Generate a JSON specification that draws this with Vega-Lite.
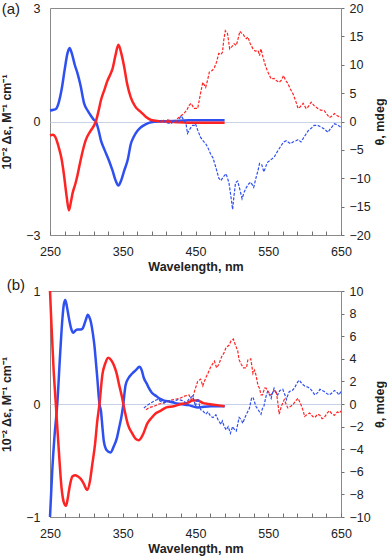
{
  "$schema": "https://vega.github.io/schema/vega-lite/v6.json",
  "padding": {"left": 0, "top": 1, "right": 0, "bottom": 0},
  "spacing": 3,
  "config": {
    "font": "Liberation Sans",
    "view": {"stroke": "#8a8a8a", "strokeWidth": 1},
    "axis": {"grid": false, "domain": false, "labelFontSize": 12.5, "labelColor": "#222", "titleColor": "#222", "titleFontSize": 12.5, "titleFontWeight": "bold", "tickColor": "#707070", "tickWidth": 1, "labelOverlap": false, "labelFlush": false, "labelBound": false}
  },
  "datasets": {
    "aS": [
      {"s":"b","x":250,"y":0.29},{"s":"b","x":255,"y":0.31},{"s":"b","x":258,"y":0.33},{"s":"b","x":262,"y":0.5},{"s":"b","x":266,"y":0.85},{"s":"b","x":270,"y":1.35},{"s":"b","x":274,"y":1.8},{"s":"b","x":277,"y":1.94},{"s":"b","x":280,"y":1.8},{"s":"b","x":284,"y":1.5},{"s":"b","x":288,"y":1.26},{"s":"b","x":292,"y":0.95},{"s":"b","x":297,"y":0.47},{"s":"b","x":302,"y":0.28},{"s":"b","x":306,"y":0.16},{"s":"b","x":310,"y":0.05},{"s":"b","x":313,"y":0.0},{"s":"b","x":317,"y":-0.25},{"s":"b","x":320,"y":-0.5},{"s":"b","x":325,"y":-0.75},{"s":"b","x":331,"y":-1.03},{"s":"b","x":336,"y":-1.3},{"s":"b","x":340,"y":-1.55},{"s":"b","x":344,"y":-1.69},{"s":"b","x":348,"y":-1.55},{"s":"b","x":352,"y":-1.3},{"s":"b","x":357,"y":-1.0},{"s":"b","x":361,"y":-0.6},{"s":"b","x":365,"y":-0.41},{"s":"b","x":370,"y":-0.25},{"s":"b","x":375,"y":-0.15},{"s":"b","x":382,"y":-0.07},{"s":"b","x":389,"y":-0.02},{"s":"b","x":400,"y":0.0},{"s":"b","x":420,"y":0.01},{"s":"b","x":440,"y":0.03},{"s":"b","x":460,"y":0.03},{"s":"b","x":490,"y":0.03},
      {"s":"r","x":250,"y":-0.37},{"s":"r","x":254,"y":-0.35},{"s":"r","x":257,"y":-0.4},{"s":"r","x":262,"y":-0.68},{"s":"r","x":266,"y":-1.0},{"s":"r","x":269,"y":-1.38},{"s":"r","x":273,"y":-2.0},{"s":"r","x":276,"y":-2.35},{"s":"r","x":279,"y":-2.1},{"s":"r","x":281,"y":-1.9},{"s":"r","x":285,"y":-1.64},{"s":"r","x":288,"y":-1.4},{"s":"r","x":292,"y":-1.03},{"s":"r","x":296,"y":-0.7},{"s":"r","x":299,"y":-0.5},{"s":"r","x":306,"y":-0.24},{"s":"r","x":313,"y":0.0},{"s":"r","x":317,"y":0.3},{"s":"r","x":320,"y":0.56},{"s":"r","x":325,"y":0.85},{"s":"r","x":329,"y":1.08},{"s":"r","x":333,"y":1.25},{"s":"r","x":336,"y":1.4},{"s":"r","x":340,"y":1.75},{"s":"r","x":344,"y":2.03},{"s":"r","x":348,"y":1.8},{"s":"r","x":352,"y":1.44},{"s":"r","x":356,"y":1.0},{"s":"r","x":361,"y":0.64},{"s":"r","x":367,"y":0.4},{"s":"r","x":375,"y":0.25},{"s":"r","x":382,"y":0.12},{"s":"r","x":389,"y":0.04},{"s":"r","x":400,"y":0.01},{"s":"r","x":420,"y":-0.01},{"s":"r","x":440,"y":-0.03},{"s":"r","x":460,"y":-0.03},{"s":"r","x":490,"y":-0.03}
    ],
    "aD": [
      {"s":"r","x":400,"y":0},{"s":"r","x":405,"y":-0.2},{"s":"r","x":410,"y":0.3},{"s":"r","x":416,"y":0.2},{"s":"r","x":420,"y":-0.3},{"s":"r","x":425,"y":0.5},{"s":"r","x":430,"y":1.0},{"s":"r","x":434,"y":1.4},{"s":"r","x":438,"y":2.0},{"s":"r","x":441,"y":2.8},{"s":"r","x":444,"y":3.2},{"s":"r","x":448,"y":2.3},{"s":"r","x":453,"y":2.3},{"s":"r","x":457,"y":5.0},{"s":"r","x":460,"y":6.9},{"s":"r","x":464,"y":6.0},{"s":"r","x":467,"y":7.5},{"s":"r","x":469,"y":8.7},{"s":"r","x":473,"y":9.0},{"s":"r","x":476,"y":9.5},{"s":"r","x":479,"y":10.5},{"s":"r","x":482,"y":12.0},{"s":"r","x":485,"y":11.8},{"s":"r","x":487,"y":12.2},{"s":"r","x":489,"y":14.5},{"s":"r","x":491,"y":16.0},{"s":"r","x":494,"y":15.5},{"s":"r","x":497,"y":12.8},{"s":"r","x":500,"y":13.2},{"s":"r","x":503,"y":13.7},{"s":"r","x":506,"y":13.4},{"s":"r","x":508,"y":14.3},{"s":"r","x":511,"y":15.9},{"s":"r","x":513,"y":15.6},{"s":"r","x":515,"y":15.5},{"s":"r","x":518,"y":14.8},{"s":"r","x":520,"y":14.6},{"s":"r","x":522,"y":14.9},{"s":"r","x":525,"y":13.8},{"s":"r","x":529,"y":12.8},{"s":"r","x":532,"y":12.4},{"s":"r","x":536,"y":12.5},{"s":"r","x":538,"y":11.6},{"s":"r","x":540,"y":12.8},{"s":"r","x":543,"y":11.2},{"s":"r","x":547,"y":9.5},{"s":"r","x":550,"y":8.6},{"s":"r","x":554,"y":7.5},{"s":"r","x":558,"y":7.6},{"s":"r","x":561,"y":7.2},{"s":"r","x":565,"y":6.9},{"s":"r","x":568,"y":7.3},{"s":"r","x":571,"y":8.1},{"s":"r","x":574,"y":7.2},{"s":"r","x":577,"y":6.7},{"s":"r","x":580,"y":5.8},{"s":"r","x":584,"y":4.9},{"s":"r","x":588,"y":3.5},{"s":"r","x":591,"y":2.3},{"s":"r","x":594,"y":2.6},{"s":"r","x":598,"y":3.2},{"s":"r","x":602,"y":2.3},{"s":"r","x":605,"y":2.6},{"s":"r","x":609,"y":3.4},{"s":"r","x":613,"y":2.8},{"s":"r","x":618,"y":2.3},{"s":"r","x":622,"y":2.0},{"s":"r","x":627,"y":1.9},{"s":"r","x":631,"y":1.2},{"s":"r","x":634,"y":0.7},{"s":"r","x":638,"y":1.0},{"s":"r","x":641,"y":1.4},{"s":"r","x":645,"y":1.0},{"s":"r","x":650,"y":0.7},
      {"s":"b","x":400,"y":0},{"s":"b","x":405,"y":0.3},{"s":"b","x":410,"y":-0.2},{"s":"b","x":416,"y":-0.4},{"s":"b","x":420,"y":0.2},{"s":"b","x":425,"y":-0.3},{"s":"b","x":430,"y":1.0},{"s":"b","x":434,"y":0.3},{"s":"b","x":437,"y":-0.4},{"s":"b","x":439,"y":-2.1},{"s":"b","x":441,"y":-1.6},{"s":"b","x":444,"y":-1.0},{"s":"b","x":446,"y":-0.7},{"s":"b","x":448,"y":-0.7},{"s":"b","x":450,"y":-0.4},{"s":"b","x":453,"y":-1.5},{"s":"b","x":457,"y":-2.8},{"s":"b","x":461,"y":-3.5},{"s":"b","x":464,"y":-3.9},{"s":"b","x":467,"y":-4.6},{"s":"b","x":471,"y":-5.8},{"s":"b","x":474,"y":-6.4},{"s":"b","x":478,"y":-8.1},{"s":"b","x":482,"y":-10.0},{"s":"b","x":485,"y":-10.4},{"s":"b","x":488,"y":-9.8},{"s":"b","x":492,"y":-9.2},{"s":"b","x":494,"y":-10.0},{"s":"b","x":496,"y":-10.8},{"s":"b","x":499,"y":-13.5},{"s":"b","x":501,"y":-15.5},{"s":"b","x":503,"y":-13.0},{"s":"b","x":505,"y":-10.8},{"s":"b","x":508,"y":-10.5},{"s":"b","x":511,"y":-12.0},{"s":"b","x":514,"y":-13.6},{"s":"b","x":517,"y":-12.4},{"s":"b","x":520,"y":-11.6},{"s":"b","x":523,"y":-11.0},{"s":"b","x":526,"y":-10.7},{"s":"b","x":530,"y":-11.6},{"s":"b","x":533,"y":-10.0},{"s":"b","x":536,"y":-8.6},{"s":"b","x":538,"y":-7.4},{"s":"b","x":541,"y":-7.6},{"s":"b","x":544,"y":-8.9},{"s":"b","x":547,"y":-7.8},{"s":"b","x":549,"y":-7.2},{"s":"b","x":553,"y":-6.8},{"s":"b","x":558,"y":-6.3},{"s":"b","x":563,"y":-5.2},{"s":"b","x":568,"y":-4.2},{"s":"b","x":571,"y":-3.6},{"s":"b","x":575,"y":-3.4},{"s":"b","x":578,"y":-3.7},{"s":"b","x":581,"y":-3.9},{"s":"b","x":584,"y":-3.6},{"s":"b","x":588,"y":-3.4},{"s":"b","x":591,"y":-3.2},{"s":"b","x":595,"y":-3.6},{"s":"b","x":598,"y":-3.0},{"s":"b","x":602,"y":-2.2},{"s":"b","x":605,"y":-1.6},{"s":"b","x":609,"y":-1.2},{"s":"b","x":613,"y":-0.7},{"s":"b","x":618,"y":-0.7},{"s":"b","x":623,"y":-1.0},{"s":"b","x":627,"y":-1.3},{"s":"b","x":632,"y":-1.9},{"s":"b","x":636,"y":-1.2},{"s":"b","x":641,"y":-0.4},{"s":"b","x":645,"y":-0.6},{"s":"b","x":650,"y":-1.0}
    ],
    "bS": [
      {"s":"b","x":250,"y":-1.0},{"s":"b","x":253,"y":-0.6},{"s":"b","x":256,"y":-0.3},{"s":"b","x":260,"y":0.0},{"s":"b","x":264,"y":0.45},{"s":"b","x":267,"y":0.75},{"s":"b","x":269,"y":0.88},{"s":"b","x":271,"y":0.92},{"s":"b","x":273,"y":0.87},{"s":"b","x":276,"y":0.76},{"s":"b","x":279,"y":0.67},{"s":"b","x":282,"y":0.63},{"s":"b","x":285,"y":0.65},{"s":"b","x":288,"y":0.66},{"s":"b","x":292,"y":0.66},{"s":"b","x":295,"y":0.67},{"s":"b","x":299,"y":0.74},{"s":"b","x":302,"y":0.79},{"s":"b","x":304,"y":0.77},{"s":"b","x":306,"y":0.73},{"s":"b","x":309,"y":0.62},{"s":"b","x":311,"y":0.52},{"s":"b","x":313,"y":0.38},{"s":"b","x":315,"y":0.23},{"s":"b","x":318,"y":0.0},{"s":"b","x":320,"y":-0.06},{"s":"b","x":322,"y":-0.2},{"s":"b","x":324,"y":-0.33},{"s":"b","x":328,"y":-0.41},{"s":"b","x":333,"y":-0.43},{"s":"b","x":338,"y":-0.37},{"s":"b","x":342,"y":-0.3},{"s":"b","x":345,"y":-0.21},{"s":"b","x":348,"y":-0.12},{"s":"b","x":350,"y":-0.04},{"s":"b","x":354,"y":0.17},{"s":"b","x":358,"y":0.23},{"s":"b","x":363,"y":0.27},{"s":"b","x":368,"y":0.3},{"s":"b","x":373,"y":0.33},{"s":"b","x":376,"y":0.3},{"s":"b","x":379,"y":0.23},{"s":"b","x":383,"y":0.18},{"s":"b","x":386,"y":0.14},{"s":"b","x":390,"y":0.1},{"s":"b","x":396,"y":0.07},{"s":"b","x":400,"y":0.05},{"s":"b","x":407,"y":0.03},{"s":"b","x":415,"y":0.02},{"s":"b","x":421,"y":0.01},{"s":"b","x":430,"y":0.0},{"s":"b","x":440,"y":-0.01},{"s":"b","x":453,"y":-0.03},{"s":"b","x":471,"y":-0.02},{"s":"b","x":490,"y":-0.02},
      {"s":"r","x":250,"y":1.0},{"s":"r","x":252,"y":0.7},{"s":"r","x":255,"y":0.3},{"s":"r","x":258,"y":0.0},{"s":"r","x":262,"y":-0.4},{"s":"r","x":266,"y":-0.75},{"s":"r","x":269,"y":-0.87},{"s":"r","x":272,"y":-0.9},{"s":"r","x":274,"y":-0.85},{"s":"r","x":276,"y":-0.77},{"s":"r","x":278,"y":-0.7},{"s":"r","x":281,"y":-0.64},{"s":"r","x":285,"y":-0.63},{"s":"r","x":288,"y":-0.64},{"s":"r","x":292,"y":-0.66},{"s":"r","x":296,"y":-0.7},{"s":"r","x":301,"y":-0.76},{"s":"r","x":305,"y":-0.68},{"s":"r","x":308,"y":-0.54},{"s":"r","x":312,"y":-0.35},{"s":"r","x":315,"y":-0.15},{"s":"r","x":318,"y":0.0},{"s":"r","x":322,"y":0.26},{"s":"r","x":326,"y":0.36},{"s":"r","x":330,"y":0.41},{"s":"r","x":334,"y":0.39},{"s":"r","x":338,"y":0.34},{"s":"r","x":342,"y":0.26},{"s":"r","x":345,"y":0.17},{"s":"r","x":349,"y":0.06},{"s":"r","x":352,"y":-0.04},{"s":"r","x":357,"y":-0.18},{"s":"r","x":363,"y":-0.26},{"s":"r","x":368,"y":-0.31},{"s":"r","x":372,"y":-0.32},{"s":"r","x":377,"y":-0.28},{"s":"r","x":384,"y":-0.17},{"s":"r","x":390,"y":-0.12},{"s":"r","x":396,"y":-0.08},{"s":"r","x":402,"y":-0.06},{"s":"r","x":410,"y":-0.03},{"s":"r","x":420,"y":-0.02},{"s":"r","x":430,"y":0.0},{"s":"r","x":439,"y":0.01},{"s":"r","x":446,"y":0.03},{"s":"r","x":453,"y":0.03},{"s":"r","x":460,"y":0.01},{"s":"r","x":467,"y":0.0},{"s":"r","x":480,"y":-0.01},{"s":"r","x":490,"y":-0.02}
    ],
    "bD": [
      {"s":"r","x":382,"y":-0.5},{"s":"r","x":387,"y":-0.3},{"s":"r","x":393,"y":-0.2},{"s":"r","x":400,"y":0.0},{"s":"r","x":407,"y":0.1},{"s":"r","x":414,"y":0.3},{"s":"r","x":421,"y":0.4},{"s":"r","x":428,"y":0.5},{"s":"r","x":435,"y":0.7},{"s":"r","x":441,"y":0.8},{"s":"r","x":444,"y":0.4},{"s":"r","x":446,"y":0.5},{"s":"r","x":449,"y":1.2},{"s":"r","x":453,"y":2.0},{"s":"r","x":457,"y":2.2},{"s":"r","x":460,"y":1.6},{"s":"r","x":464,"y":2.3},{"s":"r","x":467,"y":2.7},{"s":"r","x":471,"y":3.3},{"s":"r","x":476,"y":3.8},{"s":"r","x":479,"y":3.2},{"s":"r","x":482,"y":3.5},{"s":"r","x":486,"y":4.2},{"s":"r","x":489,"y":4.5},{"s":"r","x":492,"y":5.0},{"s":"r","x":496,"y":5.2},{"s":"r","x":499,"y":5.6},{"s":"r","x":502,"y":5.75},{"s":"r","x":505,"y":5.2},{"s":"r","x":508,"y":4.7},{"s":"r","x":510,"y":3.9},{"s":"r","x":513,"y":3.5},{"s":"r","x":516,"y":3.2},{"s":"r","x":520,"y":3.2},{"s":"r","x":522,"y":3.9},{"s":"r","x":526,"y":4.0},{"s":"r","x":529,"y":2.7},{"s":"r","x":531,"y":3.0},{"s":"r","x":533,"y":2.6},{"s":"r","x":536,"y":1.6},{"s":"r","x":538,"y":1.4},{"s":"r","x":540,"y":0.8},{"s":"r","x":542,"y":0.8},{"s":"r","x":545,"y":1.4},{"s":"r","x":547,"y":1.4},{"s":"r","x":551,"y":1.0},{"s":"r","x":554,"y":0.8},{"s":"r","x":558,"y":1.2},{"s":"r","x":561,"y":1.1},{"s":"r","x":563,"y":0.2},{"s":"r","x":565,"y":-0.9},{"s":"r","x":568,"y":-0.2},{"s":"r","x":572,"y":0.4},{"s":"r","x":575,"y":-0.1},{"s":"r","x":577,"y":-0.35},{"s":"r","x":581,"y":-0.2},{"s":"r","x":584,"y":-0.06},{"s":"r","x":588,"y":0.3},{"s":"r","x":591,"y":0.5},{"s":"r","x":595,"y":-0.06},{"s":"r","x":598,"y":-0.6},{"s":"r","x":600,"y":-1.1},{"s":"r","x":604,"y":-0.9},{"s":"r","x":607,"y":-0.8},{"s":"r","x":611,"y":-1.1},{"s":"r","x":614,"y":-1.2},{"s":"r","x":618,"y":-0.9},{"s":"r","x":621,"y":-1.0},{"s":"r","x":624,"y":-1.3},{"s":"r","x":627,"y":-1.2},{"s":"r","x":631,"y":-0.8},{"s":"r","x":634,"y":-0.6},{"s":"r","x":638,"y":-0.9},{"s":"r","x":641,"y":-1.0},{"s":"r","x":645,"y":-0.7},{"s":"r","x":648,"y":-0.8},{"s":"r","x":650,"y":-0.6},
      {"s":"b","x":379,"y":-0.35},{"s":"b","x":384,"y":-0.1},{"s":"b","x":389,"y":0.1},{"s":"b","x":394,"y":0.3},{"s":"b","x":398,"y":0.4},{"s":"b","x":403,"y":0.2},{"s":"b","x":407,"y":0.1},{"s":"b","x":414,"y":0.3},{"s":"b","x":420,"y":0.2},{"s":"b","x":426,"y":0.4},{"s":"b","x":432,"y":0.3},{"s":"b","x":437,"y":0.1},{"s":"b","x":442,"y":0.5},{"s":"b","x":446,"y":0.7},{"s":"b","x":448,"y":0.3},{"s":"b","x":450,"y":-0.2},{"s":"b","x":453,"y":0.5},{"s":"b","x":457,"y":-0.5},{"s":"b","x":460,"y":-0.6},{"s":"b","x":464,"y":-0.9},{"s":"b","x":467,"y":-0.7},{"s":"b","x":471,"y":-1.1},{"s":"b","x":474,"y":-1.2},{"s":"b","x":478,"y":-0.95},{"s":"b","x":481,"y":-1.4},{"s":"b","x":485,"y":-1.8},{"s":"b","x":487,"y":-1.5},{"s":"b","x":489,"y":-1.9},{"s":"b","x":492,"y":-2.3},{"s":"b","x":495,"y":-2.0},{"s":"b","x":498,"y":-2.6},{"s":"b","x":501,"y":-2.0},{"s":"b","x":503,"y":-2.2},{"s":"b","x":506,"y":-2.4},{"s":"b","x":510,"y":-1.2},{"s":"b","x":513,"y":-1.4},{"s":"b","x":515,"y":-1.7},{"s":"b","x":518,"y":-1.2},{"s":"b","x":520,"y":-0.9},{"s":"b","x":524,"y":-0.4},{"s":"b","x":527,"y":0.5},{"s":"b","x":529,"y":0.6},{"s":"b","x":531,"y":0.2},{"s":"b","x":533,"y":-0.2},{"s":"b","x":536,"y":-0.5},{"s":"b","x":540,"y":-0.9},{"s":"b","x":542,"y":-0.4},{"s":"b","x":544,"y":-0.2},{"s":"b","x":547,"y":0.7},{"s":"b","x":549,"y":1.1},{"s":"b","x":552,"y":0.8},{"s":"b","x":554,"y":0.5},{"s":"b","x":556,"y":1.0},{"s":"b","x":558,"y":1.4},{"s":"b","x":561,"y":0.9},{"s":"b","x":563,"y":0.8},{"s":"b","x":566,"y":1.2},{"s":"b","x":570,"y":1.3},{"s":"b","x":573,"y":0.8},{"s":"b","x":575,"y":0.4},{"s":"b","x":577,"y":0.8},{"s":"b","x":579,"y":1.1},{"s":"b","x":583,"y":1.2},{"s":"b","x":586,"y":1.4},{"s":"b","x":589,"y":1.8},{"s":"b","x":591,"y":2.0},{"s":"b","x":593,"y":2.1},{"s":"b","x":595,"y":1.9},{"s":"b","x":598,"y":1.7},{"s":"b","x":600,"y":1.6},{"s":"b","x":604,"y":1.5},{"s":"b","x":607,"y":1.4},{"s":"b","x":611,"y":1.1},{"s":"b","x":614,"y":0.8},{"s":"b","x":618,"y":1.0},{"s":"b","x":621,"y":1.3},{"s":"b","x":624,"y":1.2},{"s":"b","x":627,"y":1.1},{"s":"b","x":631,"y":0.9},{"s":"b","x":634,"y":0.8},{"s":"b","x":638,"y":1.0},{"s":"b","x":641,"y":1.2},{"s":"b","x":645,"y":1.0},{"s":"b","x":647,"y":0.8},{"s":"b","x":650,"y":1.1}
    ]
  },
  "vconcat": [
    {
      "width": 291, "height": 227,
      "title": {"text": "(a)", "anchor": "start", "frame": "bounds", "fontSize": 15, "fontWeight": "normal", "color": "#222", "offset": -15, "dx": 1},
      "layer": [
        {"data": {"name": "aS"}, "mark": {"type": "line", "strokeWidth": 2.5, "interpolate": "monotone"},
         "encoding": {
           "x": {"field": "x", "type": "quantitative", "scale": {"domain": [250, 650], "nice": false}, "axis": {"values": [250,270,290,310,330,350,370,390,410,430,450,470,490,510,530,550,570,590,610,630,650], "tickCount": 40, "labelExpr": "(datum.value-250)%100==0 ? datum.label : ''", "labelOverlap": false, "offset": -4, "tickSize": 4, "labelPadding": 10, "title": "Wavelength, nm", "titlePadding": 3}},
           "y": {"field": "y", "type": "quantitative", "scale": {"domain": [-3, 3], "nice": false}, "axis": {"values": [-3, 0, 3], "tickCount": 10, "format": "~g", "labelOverlap": false, "tickSize": 0, "labelPadding": 10, "title": "10⁻² Δε, M⁻¹ cm⁻¹", "titlePadding": 12, "grid": true, "gridColor": {"condition": {"test": "datum.value === 0", "value": "#c8d2e6"}, "value": "rgba(0,0,0,0)"}}},
           "color": {"field": "s", "type": "nominal", "scale": {"domain": ["r", "b"], "range": ["#ff2424", "#2f50f0"]}, "legend": null}
         }},
        {"data": {"name": "aD"}, "mark": {"type": "line", "strokeWidth": 1.2, "strokeDash": [3, 1.5]},
         "encoding": {
           "x": {"field": "x", "type": "quantitative", "scale": {"domain": [250, 650], "nice": false}},
           "y": {"field": "y", "type": "quantitative", "scale": {"domain": [-20, 20], "nice": false}, "axis": {"orient": "right", "values": [-20,-15,-10,-5,0,5,10,15,20], "tickCount": 20, "format": ".0f", "labelOverlap": false, "tickSize": 3, "labelPadding": 5, "title": "θ, mdeg", "titleAngle": 270, "titlePadding": 16}},
           "color": {"field": "s", "type": "nominal", "legend": null}
         }}
      ],
      "resolve": {"scale": {"y": "independent"}}
    },
    {
      "width": 291, "height": 226,
      "title": {"text": "(b)", "anchor": "start", "frame": "bounds", "fontSize": 15, "fontWeight": "normal", "color": "#222", "offset": -8, "dx": 6},
      "layer": [
        {"data": {"name": "bS"}, "mark": {"type": "line", "strokeWidth": 2.5, "interpolate": "monotone"},
         "encoding": {
           "x": {"field": "x", "type": "quantitative", "scale": {"domain": [250, 650], "nice": false}, "axis": {"values": [250,270,290,310,330,350,370,390,410,430,450,470,490,510,530,550,570,590,610,630,650], "tickCount": 40, "labelExpr": "(datum.value-250)%100==0 ? datum.label : ''", "labelOverlap": false, "offset": -4, "tickSize": 4, "labelPadding": 10, "title": "Wavelength, nm", "titlePadding": 3}},
           "y": {"field": "y", "type": "quantitative", "scale": {"domain": [-1, 1], "nice": false}, "axis": {"values": [-1, 0, 1], "tickCount": 10, "format": "~g", "labelOverlap": false, "tickSize": 0, "labelPadding": 10, "title": "10⁻² Δε, M⁻¹ cm⁻¹", "titlePadding": 12, "grid": true, "gridColor": {"condition": {"test": "datum.value === 0", "value": "#c8d2e6"}, "value": "rgba(0,0,0,0)"}}},
           "color": {"field": "s", "type": "nominal", "scale": {"domain": ["r", "b"], "range": ["#ff2424", "#2f50f0"]}, "legend": null}
         }},
        {"data": {"name": "bD"}, "mark": {"type": "line", "strokeWidth": 1.2, "strokeDash": [3, 1.5]},
         "encoding": {
           "x": {"field": "x", "type": "quantitative", "scale": {"domain": [250, 650], "nice": false}},
           "y": {"field": "y", "type": "quantitative", "scale": {"domain": [-10, 10], "nice": false}, "axis": {"orient": "right", "values": [-10,-8,-6,-4,-2,0,2,4,6,8,10], "tickCount": 20, "format": ".0f", "labelOverlap": false, "tickSize": 3, "labelPadding": 5, "title": "θ, mdeg", "titleAngle": 270, "titlePadding": 16}},
           "color": {"field": "s", "type": "nominal", "legend": null}
         }}
      ],
      "resolve": {"scale": {"y": "independent"}}
    }
  ]
}
